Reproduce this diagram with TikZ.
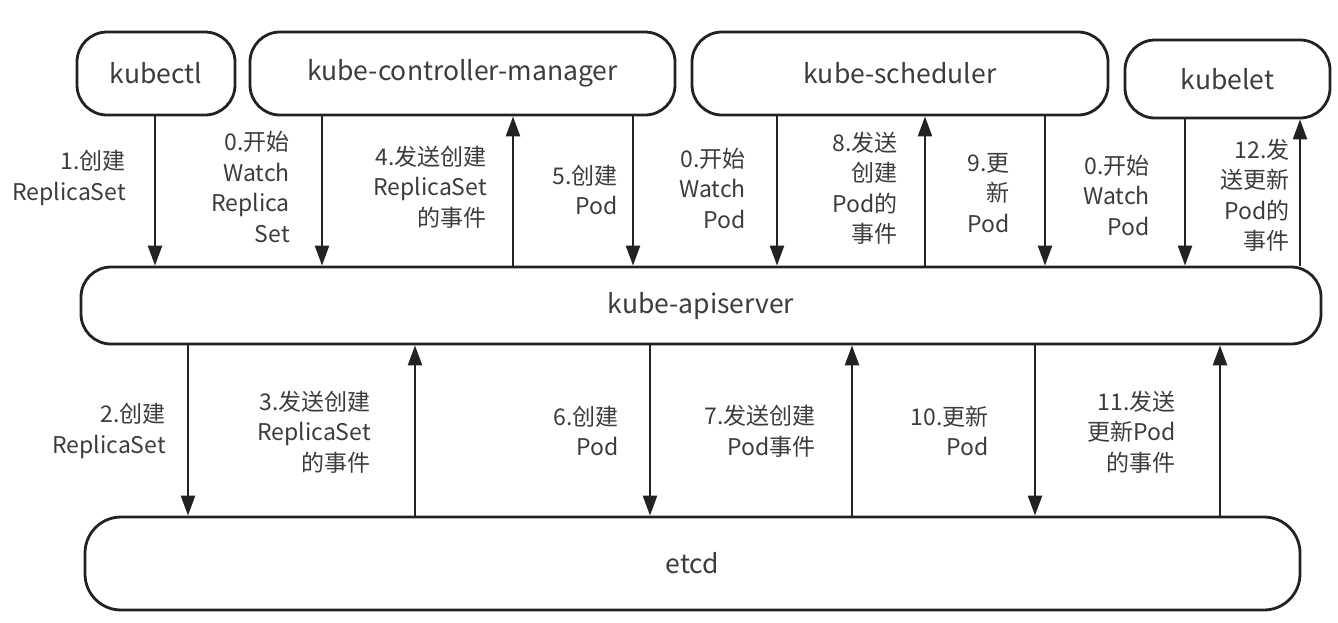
\documentclass[tikz,border=0pt]{standalone}
\usepackage{fontspec}
\setmainfont{Noto Sans CJK SC}
\usetikzlibrary{arrows.meta}
\definecolor{txt}{HTML}{3C3C3C}
\definecolor{ln}{HTML}{222222}
\begin{document}
\begin{tikzpicture}[x=1pt,y=-1pt,
  box/.style={draw=ln,line width=2.8pt,rounded corners=30pt,inner sep=0pt,
    text=txt,font=\fontsize{26.5}{30}\selectfont},
  lbl/.style={anchor=east,align=right,text=txt,inner sep=0pt,
    font=\fontsize{23}{30.5}\selectfont},
  arr/.style={draw=ln,line width=2.4pt,-{Triangle[width=14pt,length=20pt]}}]
\useasboundingbox (0,0) rectangle (1338,622);
% boxes
\node[box,minimum width=158pt,minimum height=83pt] (kubectl) at (156,73.5) {kubectl};
\node[box,minimum width=425pt,minimum height=83pt] (kcm) at (462.5,73.5) {kube-controller-manager};
\node[box,minimum width=416pt,minimum height=83pt] (sched) at (900,73.5) {kube-scheduler};
\node[box,minimum width=205pt,minimum height=78pt] (kubelet) at (1227.5,79) {kubelet};
\node[box,minimum width=1240pt,minimum height=77pt] (api) at (701,305.5) {kube-apiserver};
\node[box,minimum width=1215pt,minimum height=93pt,rounded corners=36pt] (etcd) at (692.5,563.5) {etcd};
% x positions of connectors
\coordinate (a1) at (155,0);
\coordinate (a2) at (322,0);
\coordinate (a3) at (513,0);
\coordinate (a4) at (633,0);
\coordinate (a5) at (777,0);
\coordinate (a6) at (925,0);
\coordinate (a7) at (1045,0);
\coordinate (a8) at (1185,0);
\coordinate (a9) at (1300,0);
\coordinate (b1) at (188,0);
\coordinate (b2) at (415,0);
\coordinate (b3) at (650,0);
\coordinate (b4) at (852,0);
\coordinate (b5) at (1035,0);
\coordinate (b6) at (1220,0);
% top connectors
\draw[arr] (kubectl.south -| a1) -- (api.north -| a1);
\draw[arr] (kcm.south -| a2) -- (api.north -| a2);
\draw[arr] (api.north -| a3) -- (kcm.south -| a3);
\draw[arr] (kcm.south -| a4) -- (api.north -| a4);
\draw[arr] (sched.south -| a5) -- (api.north -| a5);
\draw[arr] (api.north -| a6) -- (sched.south -| a6);
\draw[arr] (sched.south -| a7) -- (api.north -| a7);
\draw[arr] (kubelet.south -| a8) -- (api.north -| a8);
\draw[arr] (api.north -| a9) -- (kubelet.south -| a9);
% bottom connectors
\draw[arr] (api.south -| b1) -- (etcd.north -| b1);
\draw[arr] (etcd.north -| b2) -- (api.south -| b2);
\draw[arr] (api.south -| b3) -- (etcd.north -| b3);
\draw[arr] (etcd.north -| b4) -- (api.south -| b4);
\draw[arr] (api.south -| b5) -- (etcd.north -| b5);
\draw[arr] (etcd.north -| b6) -- (api.south -| b6);
% labels top
\node[lbl] (l1) at (126,178) {1.创建\\ReplicaSet};
\node[lbl] (l0a) at (290,187) {0.开始\\Watch\\Replica\\Set};
\node[lbl] (l4) at (487,187) {4.发送创建\\ReplicaSet\\的事件};
\node[lbl] (l5) at (618,190) {5.创建\\Pod};
\node[lbl] (l0b) at (746,188) {0.开始\\Watch\\Pod};
\node[lbl] (l8) at (898,188) {8.发送\\创建\\Pod的\\事件};
\node[lbl] (l9) at (1010,193) {9.更\\新\\Pod};
\node[lbl] (l0c) at (1150,195) {0.开始\\Watch\\Pod};
\node[lbl] (l12) at (1290,195) {12.发\\送更新\\Pod的\\事件};
% labels bottom
\node[lbl] (l2) at (166,431) {2.创建\\ReplicaSet};
\node[lbl] (l3) at (371,432) {3.发送创建\\ReplicaSet\\的事件};
\node[lbl] (l6) at (619,431) {6.创建\\Pod};
\node[lbl] (l7) at (816,431) {7.发送创建\\Pod事件};
\node[lbl] (l10) at (989,431) {10.更新\\Pod};
\node[lbl] (l11) at (1176,432) {11.发送\\更新Pod\\的事件};
\end{tikzpicture}
\end{document}
